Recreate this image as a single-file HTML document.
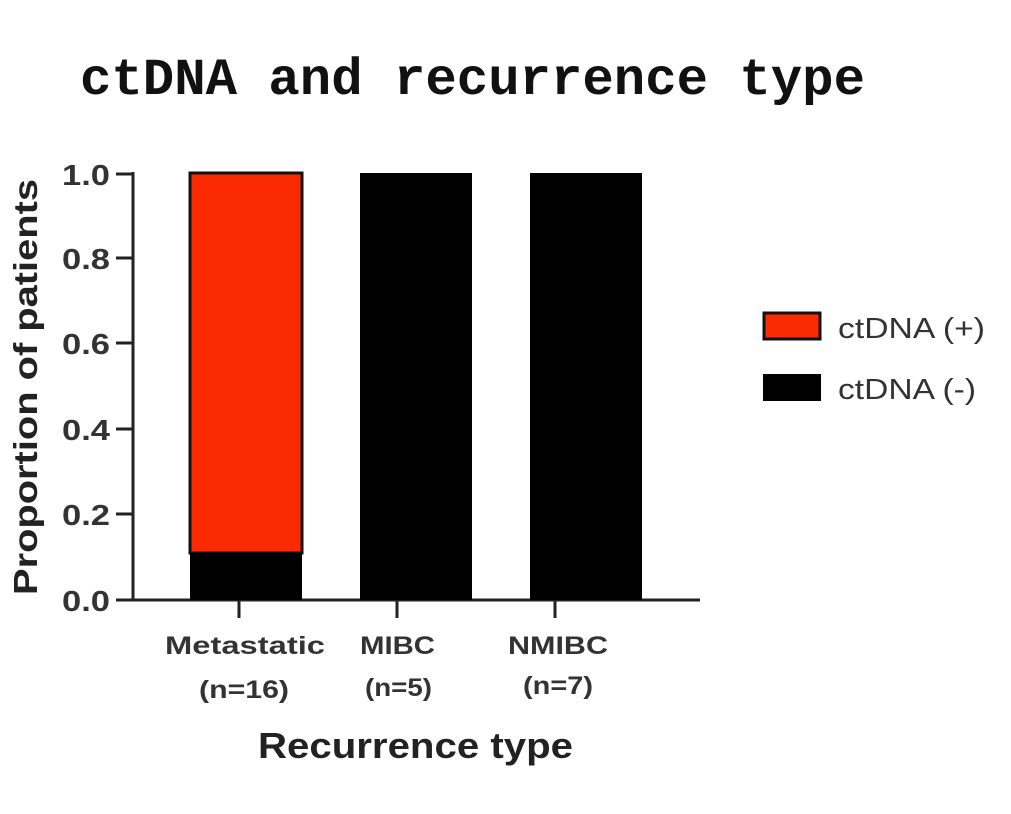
<!DOCTYPE html>
<html><head><style>body{margin:0;background:#fff}</style></head><body>
<svg width="1011" height="809" xmlns="http://www.w3.org/2000/svg" font-family="Liberation Sans, Arial, sans-serif">
<text x="80" y="94" textLength="785" lengthAdjust="spacingAndGlyphs" font-family="Liberation Mono, monospace" font-weight="bold" font-size="52" fill="#111">ctDNA and recurrence type</text>
<g stroke="#222" stroke-width="3" fill="none">
<line x1="133" y1="172" x2="133" y2="601"/>
<line x1="116" y1="600" x2="700" y2="600"/>
<line x1="116" y1="174" x2="133" y2="174"/>
<line x1="116" y1="258" x2="133" y2="258"/>
<line x1="116" y1="343" x2="133" y2="343"/>
<line x1="116" y1="429" x2="133" y2="429"/>
<line x1="116" y1="514" x2="133" y2="514"/>
<line x1="239" y1="600" x2="239" y2="618"/>
<line x1="397" y1="600" x2="397" y2="618"/>
<line x1="555" y1="600" x2="555" y2="618"/>
</g>
<rect x="190" y="173" width="112" height="380" fill="#fb2a00" stroke="#111" stroke-width="3"/>
<rect x="190" y="553" width="112" height="47" fill="#000"/>
<rect x="360" y="173" width="112" height="427" fill="#000"/>
<rect x="530" y="173" width="112" height="427" fill="#000"/>
<g font-weight="bold" font-size="29" fill="#333">
<text x="62" y="185" textLength="48" lengthAdjust="spacingAndGlyphs">1.0</text>
<text x="62" y="269" textLength="48" lengthAdjust="spacingAndGlyphs">0.8</text>
<text x="62" y="354" textLength="48" lengthAdjust="spacingAndGlyphs">0.6</text>
<text x="62" y="440" textLength="48" lengthAdjust="spacingAndGlyphs">0.4</text>
<text x="62" y="525" textLength="48" lengthAdjust="spacingAndGlyphs">0.2</text>
<text x="62" y="611" textLength="48" lengthAdjust="spacingAndGlyphs">0.0</text>
</g>
<text transform="translate(37,387) rotate(-90)" x="-208" y="0" textLength="416" lengthAdjust="spacingAndGlyphs" font-weight="bold" font-size="33" fill="#222">Proportion of patients</text>
<g font-weight="bold" font-size="25" fill="#333">
<text x="165" y="654" textLength="160" lengthAdjust="spacingAndGlyphs">Metastatic</text>
<text x="199" y="698" textLength="90" lengthAdjust="spacingAndGlyphs">(n=16)</text>
<text x="360" y="654" textLength="75" lengthAdjust="spacingAndGlyphs">MIBC</text>
<text x="365" y="696" textLength="67" lengthAdjust="spacingAndGlyphs">(n=5)</text>
<text x="508" y="654" textLength="100" lengthAdjust="spacingAndGlyphs">NMIBC</text>
<text x="523" y="694" textLength="70" lengthAdjust="spacingAndGlyphs">(n=7)</text>
</g>
<text x="258" y="758" textLength="315" lengthAdjust="spacingAndGlyphs" font-weight="bold" font-size="36" fill="#222">Recurrence type</text>
<rect x="764" y="313" width="56" height="26" fill="#fb2a00" stroke="#111" stroke-width="3"/>
<rect x="763" y="374" width="58" height="27" fill="#000"/>
<text x="838" y="338" textLength="147" lengthAdjust="spacingAndGlyphs" font-size="29" fill="#333">ctDNA (+)</text>
<text x="838" y="399" textLength="138" lengthAdjust="spacingAndGlyphs" font-size="29" fill="#333">ctDNA (-)</text>
</svg>
</body></html>
